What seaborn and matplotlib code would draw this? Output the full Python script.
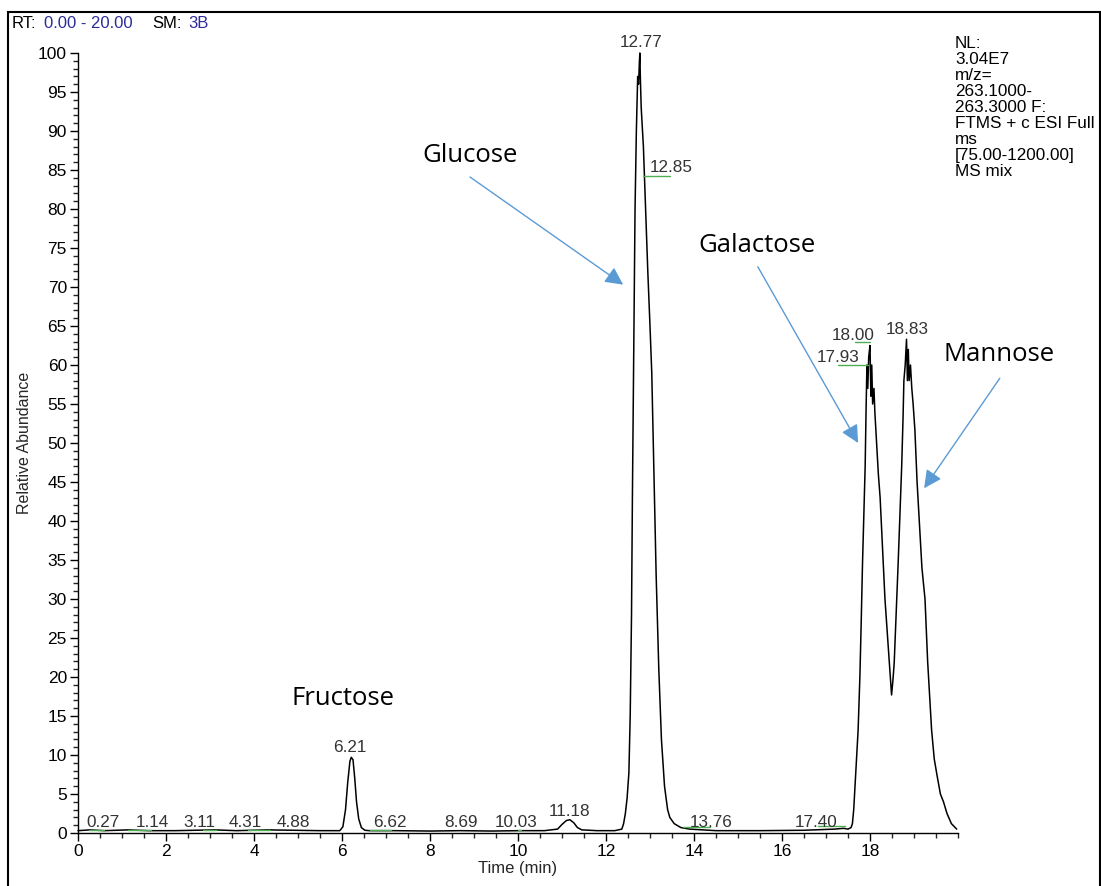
import numpy as np
import pandas as pd
import matplotlib
matplotlib.use("Agg")
import matplotlib.pyplot as plt
import matplotlib.patches as mpatches
from matplotlib.ticker import MultipleLocator
import seaborn as sns

# ---------------- data ----------------
rt = [0.00, 0.27, 0.60, 1.14, 1.60, 2.20, 3.11, 3.60, 4.31, 4.88, 5.50, 5.95,
      6.02, 6.08, 6.13, 6.18, 6.21, 6.25, 6.29, 6.33, 6.38, 6.44, 6.52, 6.62,
      7.20, 8.00, 8.69, 9.40, 10.03, 10.60, 10.90, 11.00, 11.10, 11.18, 11.27,
      11.35, 11.45, 11.80, 12.20, 12.36, 12.40, 12.44, 12.48, 12.52, 12.55,
      12.58, 12.60, 12.62, 12.64, 12.66, 12.69, 12.72, 12.74, 12.76, 12.77,
      12.78, 12.79, 12.80, 12.82, 12.85, 12.90, 12.95, 13.00, 13.04, 13.09,
      13.14, 13.20, 13.26, 13.33, 13.40, 13.45, 13.55, 13.70, 13.90, 14.50,
      15.50, 16.50, 17.00, 17.20, 17.40, 17.50, 17.57, 17.60, 17.63, 17.67,
      17.70, 17.73, 17.77, 17.80, 17.83, 17.86, 17.89, 17.91, 17.93, 17.95,
      17.97, 18.00, 18.02, 18.04, 18.06, 18.09, 18.11, 18.15, 18.19, 18.23,
      18.28, 18.34, 18.39, 18.44, 18.49, 18.52, 18.55, 18.60, 18.64, 18.68,
      18.72, 18.75, 18.77, 18.80, 18.83, 18.85, 18.87, 18.89, 18.92, 18.95,
      18.98, 19.02, 19.07, 19.12, 19.18, 19.25, 19.31, 19.36, 19.40, 19.46,
      19.52, 19.60, 19.67, 19.75, 19.85, 19.97]
abundance = [0.30, 0.40, 0.30, 0.40, 0.30, 0.30, 0.40, 0.30, 0.40, 0.35, 0.30, 0.30,
             0.80, 3.00, 6.50, 9.20, 9.70, 9.40, 7.00, 4.00, 1.80, 0.70, 0.35, 0.30,
             0.30, 0.25, 0.30, 0.25, 0.30, 0.30, 0.50, 1.10, 1.60, 1.70, 1.30,
             0.70, 0.40, 0.30, 0.30, 0.50, 1.20, 2.50, 4.50, 7.70, 15.0,
             28.0, 43.0, 55.0, 66.0, 80.0, 90.0, 97.0, 96.0, 99.0, 100.0,
             97.0, 95.0, 93.0, 91.0, 88.0, 80.0, 72.0, 65.0, 59.0, 46.0,
             33.0, 21.0, 12.0, 6.0, 3.0, 2.0, 1.2, 0.7, 0.5, 0.3,
             0.3, 0.35, 0.45, 0.50, 0.60, 0.50, 0.70, 1.20, 3.00, 7.00,
             10.0, 13.2, 20.0, 27.0, 34.6, 41.0, 47.0, 54.0, 60.0, 57.0,
             61.0, 62.5, 56.0, 60.0, 55.0, 57.0, 54.0, 50.0, 46.0, 43.0,
             37.0, 30.0, 26.0, 21.8, 17.7, 19.5, 21.8, 29.0, 34.6, 41.0,
             47.0, 53.0, 58.0, 60.0, 63.3, 58.0, 62.0, 58.0, 60.0, 57.0,
             55.0, 51.7, 45.0, 40.0, 34.0, 30.0, 22.0, 17.0, 13.2, 9.5,
             7.5, 5.0, 4.0, 2.5, 1.2, 0.5]

# peak labels (text, time position, abundance position)
peak_text = ["0.27", "1.14", "3.11", "4.31", "4.88", "6.21", "6.62", "8.69",
             "10.03", "11.18", "12.77", "12.85", "13.76", "17.40", "18.00",
             "17.93", "18.83"]
peak_x = [0.57, 1.70, 2.77, 3.81, 4.89, 6.18, 7.09, 8.70,
          9.95, 11.18, 12.80, 13.48, 14.39, 16.77, 17.61, 17.27, 18.84]
peak_y = [1.3, 1.3, 1.3, 1.3, 1.3, 11.0, 1.3, 1.3,
          1.3, 2.8, 101.3, 85.3, 1.4, 1.4, 63.8, 60.9, 64.6]

# green peak marks
mark_start = [0.25, 1.14, 2.85, 3.87, 6.63, 10.00, 12.84, 13.75, 16.82, 17.27, 17.66]
mark_end = [0.59, 1.67, 3.14, 4.36, 7.11, 10.07, 13.45, 14.36, 17.43, 17.95, 18.00]
mark_level = [0.4, 0.4, 0.4, 0.4, 0.4, 0.4, 84.2, 0.8, 0.9, 60.0, 63.0]

# compound annotations
compounds = ["Glucose", "Fructose", "Galactose", "Mannose"]
comp_x = [8.91, 6.02, 15.43, 20.93]
comp_y = [86.9, 17.3, 75.3, 61.4]
arrow_from_x = [8.91, None, 15.45, 20.95]
arrow_from_y = [84.1, None, 72.6, 58.3]
arrow_to_x = [12.39, None, 17.73, 19.23]
arrow_to_y = [70.3, None, 50.0, 44.2]

info_lines = ["NL:", "3.04E7", "m/z=", "263.1000-", "263.3000 F:",
              "FTMS + c ESI Full", "ms", "[75.00-1200.00]", "MS mix"]

x_ticks = [0, 2, 4, 6, 8, 10, 12, 14, 16, 18]
y_ticks = list(range(0, 101, 5))

# ---------------- plot ----------------
sns.set_style("ticks")
plt.rcParams['font.family'] = ['Liberation Sans', 'DejaVu Sans']

fig = plt.figure(figsize=(11.01, 8.86), dpi=100)
ax = fig.add_axes([78 / 1101, 53 / 886, 880 / 1101, 780 / 886])

df = pd.DataFrame({"rt": rt, "abundance": abundance})
sns.lineplot(data=df, x="rt", y="abundance", color="black", lw=1.1, ax=ax,
             estimator=None, sort=False)
for line in ax.lines:
    line.set_clip_on(False)

ax.set_xlim(0, 20)
ax.set_ylim(0, 100)
ax.set_xticks(x_ticks)
ax.set_yticks(y_ticks)
ax.xaxis.set_minor_locator(MultipleLocator(0.5))
ax.yaxis.set_minor_locator(MultipleLocator(1))
ax.tick_params(axis="both", which="major", direction="out", length=6, width=1,
               labelsize=12.5, colors="black", pad=2)
ax.tick_params(axis="both", which="minor", direction="out", length=3.5, width=1)
ax.spines["top"].set_visible(False)
ax.spines["right"].set_visible(False)
for s in ["left", "bottom"]:
    ax.spines[s].set_linewidth(1.0)
    ax.spines[s].set_color("black")
ax.set_xlabel("Time (min)", fontsize=12, labelpad=1)
ax.set_ylabel("Relative Abundance", fontsize=11.5, labelpad=4)

# green marks
for x0, x1, lv in zip(mark_start, mark_end, mark_level):
    ax.plot([x0, x1], [lv, lv], color="#4caf50", lw=1.0, clip_on=False)

# peak labels
for t, x, y in zip(peak_text, peak_x, peak_y):
    ax.text(x, y, t, ha="center", va="center", fontsize=12.3, color="#333333",
            clip_on=False)

# compound labels and arrows
for name, cx, cy, fx, fy, tx, ty in zip(compounds, comp_x, comp_y, arrow_from_x,
                                         arrow_from_y, arrow_to_x, arrow_to_y):
    ax.text(cx, cy, name, ha="center", va="center", fontsize=18.5,
            family=["Open Sans", "DejaVu Sans"], color="black", clip_on=False)
    if fx is not None:
        ax.annotate("", xy=(tx, ty), xytext=(fx, fy),
                    arrowprops=dict(arrowstyle="-|>", color="#5b9bd5", lw=1.0,
                                    mutation_scale=27, shrinkA=0, shrinkB=0),
                    annotation_clip=False)

# info text top right
for i, line in enumerate(info_lines):
    fig.text(955 / 1101, 1 - (43 + 16.1 * i) / 886, line, ha="left", va="center",
             fontsize=12.3, color="black")

# header
hy = 1 - 24 / 886
parts = [("RT:", "black", 12), ("0.00 - 20.00", "#2b2b9a", 44),
         ("SM:", "black", 152), ("3B", "#2b2b9a", 188)]
for txt, col, px in parts:
    fig.text(px / 1101, hy, txt, ha="left", va="center", fontsize=12, color=col)

# outer frame
frame = mpatches.Rectangle((7.5 / 1101, -0.01), (1099.5 - 7.5) / 1101,
                           (886 - 12) / 886 + 0.01, transform=fig.transFigure,
                           fill=False, edgecolor="black", lw=1.5)
fig.patches.append(frame)

fig.savefig("out.png", dpi=100)
